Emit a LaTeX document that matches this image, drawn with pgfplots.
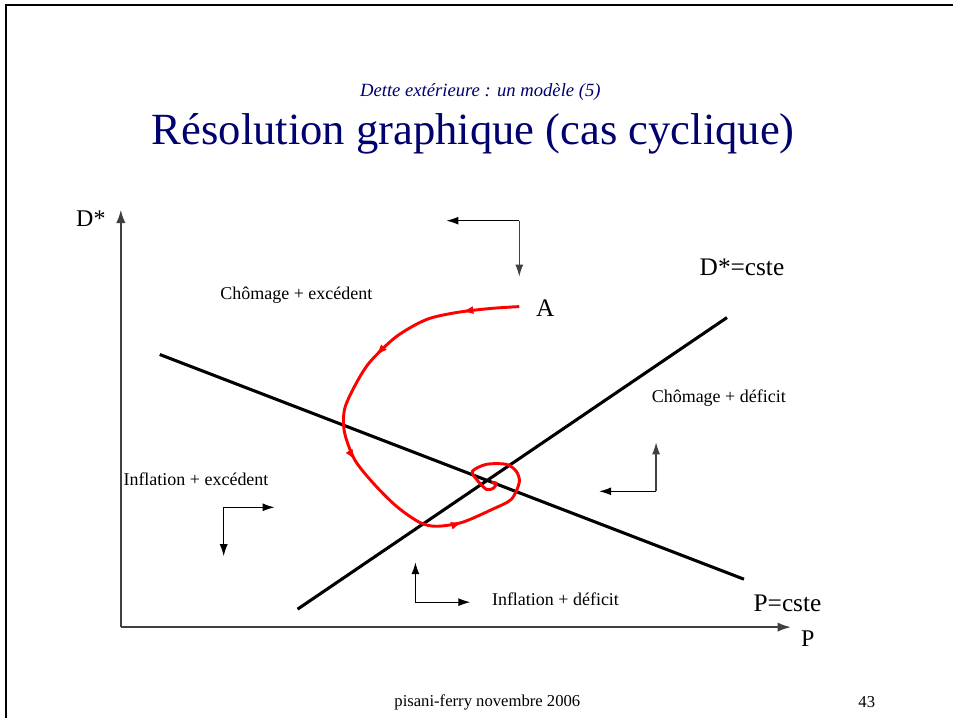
\documentclass[border=0pt]{standalone}
\usepackage{fontspec}
\setmainfont{Liberation Serif}
\usepackage{pgfplots}
\pgfplotsset{compat=1.18}
\usetikzlibrary{arrows.meta,decorations.markings}
\definecolor{titleblue}{RGB}{0,0,110}
\definecolor{curvered}{RGB}{255,0,0}
\newcommand{\fs}[1]{\fontsize{#1}{#1}\selectfont}
\tikzset{dirarrow/.style={line width=0.9pt, -{Latex[length=9pt,width=6pt]}}}
\begin{document}
\begin{tikzpicture}
\begin{axis}[
    scale only axis, width=715.5pt, height=539.25pt,
    xmin=0, xmax=954, ymin=0, ymax=719, y dir=reverse,
    hide axis, clip=false,
]
% page and frame
\addplot[draw=none, fill=white] coordinates {(0,0) (954,0) (954,719) (0,719)} \closedcycle;
\addplot[black, line width=2pt] coordinates {(6,719) (6,5) (954,5)};

% axes
\addplot[black!75, line width=1.4pt, -{Latex[length=10pt,width=7pt]}] coordinates {(121,628) (121,210)};
\addplot[black!75, line width=1.4pt, -{Latex[length=10pt,width=7pt]}] coordinates {(121,628) (792,628)};

% loci
\addplot[black, line width=2.3pt] coordinates {(160,355) (745,580)};
\addplot[black, line width=2.3pt] coordinates {(298,610) (728,318)};

% direction arrows
\addplot[black, dirarrow] coordinates {(520,221) (447,221)};
\addplot[black!75, dirarrow] coordinates {(520,221) (520,277)};
\addplot[black!75, dirarrow] coordinates {(657,492) (657,443)};
\addplot[black, dirarrow] coordinates {(657,492) (600,492)};
\addplot[black, dirarrow] coordinates {(224,508) (275,508)};
\addplot[black, dirarrow] coordinates {(224,508) (224,557)};
\addplot[black, dirarrow] coordinates {(416,603) (416,563)};
\addplot[black, dirarrow] coordinates {(416,603) (471,603)};

% trajectory
\addplot[curvered, line width=2.2pt, smooth,
    postaction={decorate, decoration={markings,
        mark=at position 0.10 with {\arrow{Latex[length=9pt,width=6pt]}},
        mark=at position 0.27 with {\arrow{Latex[length=9pt,width=6pt]}},
        mark=at position 0.47 with {\arrow{Latex[length=9pt,width=6pt]}},
        mark=at position 0.70 with {\arrow{Latex[length=9pt,width=6pt]}}}}]
coordinates {
    (520,307) (490,309) (457,313) (427,320) (397,337) (370,363) (355,387)
    (345,410) (345,433) (355,460) (373,483) (397,507) (420,523) (437,527)
    (463,523) (493,510) (512,500) (520,483) (517,472) (507,465) (487,465)
    (473,472) (478,481) (487,490) (494,489) (497,484) (492,483)
};

% texts
\node[titleblue, font=\fs{14}\itshape] at (axis cs:481,92) {Dette extérieure : un modèle (5)};
\node[titleblue, font=\fs{33.5}] at (axis cs:474,134) {Résolution graphique (cas cyclique)};
\node[font=\fs{18}] at (axis cs:91,219) {D*};
\node[font=\fs{18}] at (axis cs:809,640) {P};
\node[font=\fs{19}, anchor=west] at (axis cs:696,268) {D*=cste};
\node[font=\fs{19}, anchor=west] at (axis cs:750,604) {P=cste};
\node[font=\fs{19}] at (axis cs:546,309) {A};
\node[font=\fs{13.5}, anchor=west] at (axis cs:216,296) {Chômage + excédent};
\node[font=\fs{13.5}, anchor=west] at (axis cs:648,399) {Chômage + déficit};
\node[font=\fs{13.5}, anchor=west] at (axis cs:119,480) {Inflation + excédent};
\node[font=\fs{13.5}, anchor=west] at (axis cs:488,600) {Inflation + déficit};
\node[font=\fs{12.5}] at (axis cs:488,703) {pisani-ferry novembre 2006};
\node[font=\fs{12.5}] at (axis cs:868,703) {43};
\end{axis}
\end{tikzpicture}
\end{document}
